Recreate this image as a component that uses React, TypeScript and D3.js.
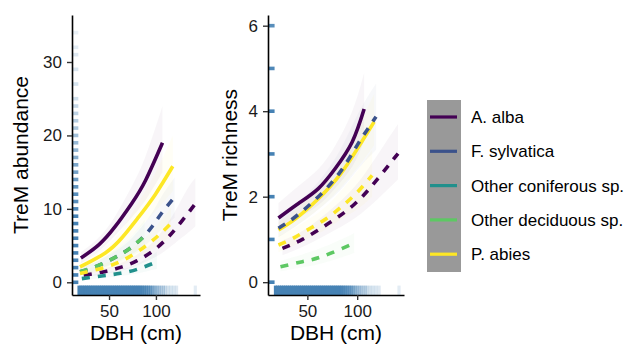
import React, { useEffect, useRef } from 'react';
import * as d3 from 'd3';

// species + viridis palette
const species = ['A. alba', 'F. sylvatica', 'Other coniferous sp.', 'Other deciduous sp.', 'P. abies'];
const speciesColors = ['#440154', '#3B528B', '#21908C', '#5DC863', '#FDE725'];

// fitted curves: [DBH, fit, lower, upper]
type Pt = [number, number, number, number];

const abundAlbaSolid: Pt[] = [[20, 3.3, 2.6, 4.1], [39, 5.1, 4.2, 6.1], [56, 7.5, 6.3, 8.9], [74, 10.7, 8.8, 13.0], [89, 13.9, 11.2, 17.2], [107, 19.0, 15.0, 24.0]];
const abundAbiesSolid: Pt[] = [[19, 2.1, 1.6, 2.7], [46, 4.0, 3.3, 4.8], [64, 6.1, 5.0, 7.3], [81, 8.8, 7.2, 10.8], [99, 11.9, 9.6, 14.8], [118, 15.8, 12.4, 20.0]];
const abundAlbaDashed: Pt[] = [[23, 0.95, 0.7, 1.3], [45, 1.45, 1.1, 1.9], [64, 2.1, 1.6, 2.7], [80, 2.95, 2.3, 3.8], [96, 4.2, 3.2, 5.4], [110, 5.75, 4.3, 7.6], [121, 7.3, 5.4, 9.8], [133, 9.2, 6.6, 12.6], [142, 10.7, 7.6, 14.2]];
const abundSylvDashed: Pt[] = [[19, 1.45, 1.0, 2.0], [37, 2.2, 1.7, 2.8], [55, 3.3, 2.6, 4.1], [71, 4.5, 3.6, 5.6], [85, 6.0, 4.7, 7.6], [96, 7.6, 5.9, 9.5], [106, 9.4, 7.2, 11.7], [120, 11.6, 8.8, 14.3]];
const abundConifDashed: Pt[] = [[21, 0.5, 0.3, 0.8], [44, 0.9, 0.6, 1.3], [62, 1.22, 0.85, 1.7], [80, 1.77, 1.2, 2.5], [97, 2.58, 1.7, 3.8], [101, 2.8, 1.8, 4.2]];
const abundDecidDashed: Pt[] = [[19, 1.45, 1.0, 2.0], [37, 2.2, 1.6, 2.9], [55, 3.3, 2.5, 4.3], [71, 4.5, 3.4, 5.9], [88, 6.3, 4.6, 8.5]];
const abundAbiesDashed: Pt[] = [[19, 1.2, 0.9, 1.6], [37, 1.75, 1.35, 2.2], [56, 2.5, 2.0, 3.1], [72, 3.5, 2.8, 4.3], [88, 4.85, 3.9, 6.0], [102, 6.3, 5.0, 7.9], [116, 8.0, 6.2, 10.2]];

const richAlbaSolid: Pt[] = [[21, 1.50, 1.2, 1.85], [41, 1.84, 1.5, 2.25], [61, 2.19, 1.8, 2.65], [78, 2.66, 2.2, 3.2], [95, 3.28, 2.7, 4.0], [107, 4.05, 3.3, 4.9]];
const richAbiesSolid: Pt[] = [[21, 1.22, 1.05, 1.4], [38, 1.48, 1.3, 1.7], [61, 1.95, 1.7, 2.25], [83, 2.52, 2.2, 2.9], [101, 3.15, 2.7, 3.65], [117, 3.75, 3.2, 4.4]];
const richAlbaDashed: Pt[] = [[25, 0.79, 0.63, 0.98], [45, 1.0, 0.82, 1.2], [71, 1.37, 1.13, 1.65], [98, 1.84, 1.5, 2.25], [121, 2.43, 1.95, 3.0], [141, 3.01, 2.4, 3.7]];
const richSylvDashed: Pt[] = [[21, 1.26, 1.05, 1.5], [38, 1.53, 1.3, 1.8], [61, 2.0, 1.7, 2.35], [83, 2.58, 2.15, 3.1], [101, 3.24, 2.65, 3.95], [119, 3.87, 3.1, 4.65]];
const richDecidDashed: Pt[] = [[23, 0.36, 0.25, 0.5], [45, 0.48, 0.35, 0.65], [66, 0.61, 0.45, 0.82], [93, 0.87, 0.65, 1.1], [97, 0.9, 0.68, 1.15]];
const richAbiesDashed: Pt[] = [[21, 0.87, 0.7, 1.08], [36, 1.03, 0.85, 1.25], [53, 1.26, 1.05, 1.5], [70, 1.5, 1.25, 1.8], [86, 1.8, 1.5, 2.2], [100, 2.1, 1.7, 2.6], [115, 2.5, 2.0, 3.1]];

// rugs (observed values + their visual density)
const rugAbund = [0, 1, 2, 3, 4, 5, 6, 7, 8, 9, 10, 11, 12, 13, 14, 15, 16, 17, 18, 19, 20, 21, 22, 23, 24, 25, 27, 29, 31, 32, 34];
const rugAbundAlpha = [1, 1, 1, 1, 1, 1, 1, 1, 1, 1, 0.95, 0.9, 0.9, 0.85, 0.8, 0.75, 0.7, 0.65, 0.6, 0.55, 0.5, 0.45, 0.4, 0.35, 0.3, 0.25, 0.22, 0.2, 0.18, 0.15, 0.12];
const rugRich = [0, 1, 2, 3, 4, 5, 6];
const rugRichAlpha = [1, 1, 1, 1, 1, 0.95, 0.9];
const rugDbh = [18, 20, 22, 24, 26, 28, 30, 32, 34, 36, 38, 40, 42, 44, 46, 48, 50, 52, 54, 56, 58, 60, 62, 64, 66, 68, 70, 72, 74, 76, 78, 80, 82, 84, 86, 88, 90, 92, 94,
  96, 98, 100, 102, 104, 106, 108, 110, 113, 116, 119, 122, 142];
const rugDbhAlpha = [1, 1, 1, 1, 1, 1, 1, 1, 1, 1, 1, 1, 1, 1, 1, 1, 1, 1, 1, 1, 1, 1, 1, 1, 1, 1, 1, 1, 1, 1, 1, 1, 1, 0.95, 0.9, 0.85, 0.8, 0.75, 0.7,
  0.6, 0.5, 0.45, 0.4, 0.35, 0.3, 0.3, 0.28, 0.25, 0.22, 0.2, 0.18, 0.15];

const xTicks = [50, 100];
const abundTicks = [0, 10, 20, 30];
const richTicks = [0, 2, 4, 6];

const FONT = '"Liberation Sans", Arial, Helvetica, sans-serif';
const RUG = '#4682B4';

const App = () => {
  const ref = useRef<SVGSVGElement>(null);

  useEffect(() => {
    const svg = d3.select(ref.current);
    svg.selectAll('*').remove();

    const panels = [
      {
        x0: 72, x1: 200, yDomain: [-1.73, 36.4], ticks: abundTicks, title: 'TreM abundance', titleX: 28,
        rug: rugAbund, rugAlpha: rugAbundAlpha,
        series: [
          { sp: 0, dashed: false, pts: abundAlbaSolid },
          { sp: 4, dashed: false, pts: abundAbiesSolid },
          { sp: 0, dashed: true, pts: abundAlbaDashed },
          { sp: 1, dashed: true, pts: abundSylvDashed },
          { sp: 2, dashed: true, pts: abundConifDashed },
          { sp: 3, dashed: true, pts: abundDecidDashed },
          { sp: 4, dashed: true, pts: abundAbiesDashed },
        ],
      },
      {
        x0: 268, x1: 404, yDomain: [-0.3, 6.25], ticks: richTicks, title: 'TreM richness', titleX: 237,
        rug: rugRich, rugAlpha: rugRichAlpha,
        series: [
          { sp: 0, dashed: false, pts: richAlbaSolid },
          { sp: 4, dashed: false, pts: richAbiesSolid },
          { sp: 0, dashed: true, pts: richAlbaDashed },
          { sp: 1, dashed: true, pts: richSylvDashed },
          { sp: 3, dashed: true, pts: richDecidDashed },
          { sp: 4, dashed: true, pts: richAbiesDashed },
        ],
      },
    ];

    const top = 15, bottom = 295;

    panels.forEach((p) => {
      const x = d3.scaleLinear().domain([10.5, 147]).range([p.x0, p.x1]);
      const y = d3.scaleLinear().domain(p.yDomain).range([bottom, top]);
      const g = svg.append('g');

      // ribbons
      const area = d3.area<Pt>().x((d) => x(d[0])).y0((d) => y(d[2])).y1((d) => y(d[3])).curve(d3.curveNatural);
      p.series.forEach((s) => {
        g.append('path').attr('d', area(s.pts)).attr('fill', speciesColors[s.sp]).attr('fill-opacity', 0.04);
      });

      // rugs
      const rugLenX = 0.03 * (p.x1 - p.x0) + 2.5;
      p.rug.forEach((v, i) => {
        g.append('line')
          .attr('x1', p.x0).attr('x2', p.x0 + rugLenX)
          .attr('y1', y(v)).attr('y2', y(v))
          .style('stroke', RUG).style('stroke-width', '3.6px').style('stroke-opacity', p.rugAlpha[i]);
      });
      const rugLenY = 0.03 * (bottom - top) + 1;
      rugDbh.forEach((v, i) => {
        g.append('line')
          .attr('x1', x(v)).attr('x2', x(v))
          .attr('y1', bottom).attr('y2', bottom - rugLenY)
          .style('stroke', RUG).style('stroke-width', '3.2px').style('stroke-opacity', rugDbhAlpha[i]);
      });

      // fitted lines
      const line = d3.line<Pt>().x((d) => x(d[0])).y((d) => y(d[1])).curve(d3.curveNatural);
      p.series.forEach((s) => {
        g.append('path').attr('d', line(s.pts))
          .attr('fill', 'none')
          .attr('stroke', speciesColors[s.sp])
          .attr('stroke-width', 3.6)
          .attr('stroke-dasharray', s.dashed ? '8,8' : null);
      });

      // axes
      const ax = g.append('g').attr('transform', `translate(0,${bottom})`)
        .call(d3.axisBottom(x).tickValues(xTicks).tickSize(5).tickSizeOuter(0).tickPadding(5).tickFormat(d3.format('d')));
      const ay = g.append('g').attr('transform', `translate(${p.x0},0)`)
        .call(d3.axisLeft(y).tickValues(p.ticks).tickSize(5).tickSizeOuter(0).tickPadding(5).tickFormat(d3.format('d')));
      [ax, ay].forEach((a) => {
        a.select('.domain').attr('stroke', '#000').attr('stroke-width', 1.6);
        a.selectAll('.tick line').attr('stroke', '#333').attr('stroke-width', 1.4);
        a.selectAll('.tick text').attr('fill', '#1a1a1a').style('font-size', '17px').style('font-family', FONT);
      });

      svg.append('text')
        .attr('x', (p.x0 + p.x1) / 2).attr('y', 340)
        .attr('text-anchor', 'middle')
        .style('font-size', '21px').style('font-family', FONT)
        .text('DBH (cm)');
      svg.append('text')
        .attr('transform', `translate(${p.titleX},${(top + bottom) / 2}) rotate(-90)`)
        .attr('text-anchor', 'middle')
        .style('font-size', '21px').style('font-family', FONT)
        .text(p.title);
    });

    // legend
    const lg = svg.append('g');
    lg.append('rect').attr('x', 427).attr('y', 100).attr('width', 34).attr('height', 172).attr('fill', '#999999');
    species.forEach((name, i) => {
      const ly = 117 + i * 34.3;
      lg.append('line').attr('x1', 430).attr('x2', 457).attr('y1', ly).attr('y2', ly)
        .attr('stroke', speciesColors[i]).attr('stroke-width', 3.2);
      lg.append('text').attr('x', 471).attr('y', ly).attr('dy', '0.36em')
        .style('font-size', '17px').style('font-family', FONT)
        .text(name);
    });
  }, []);

  return (
    <svg ref={ref} width={630} height={346} style={{ position: 'absolute', left: 0, top: 0, background: '#fff' }} />
  );
};

export default App;
